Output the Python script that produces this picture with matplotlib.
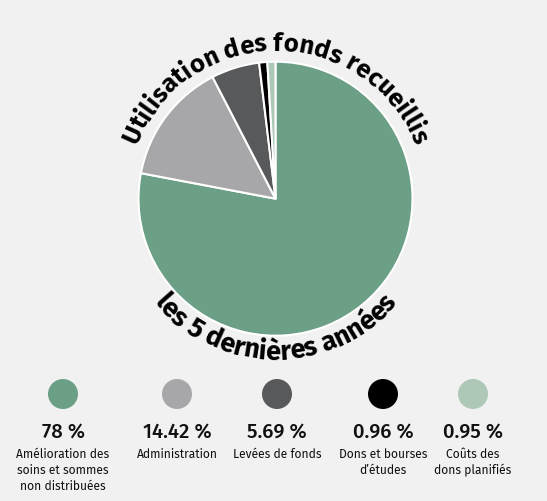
import numpy as np
import matplotlib
matplotlib.use('Agg')
import matplotlib.pyplot as plt
from matplotlib.patches import Circle
from matplotlib.font_manager import FontProperties, findfont, get_font

# data
categories = ['Amélioration des\nsoins et sommes\nnon distribuées', 'Administration',
              'Levées de fonds', 'Dons et bourses\nd\u2019études', 'Coûts des\ndons planifiés']
values = [78, 14.42, 5.69, 0.96, 0.95]
pct_labels = ['78 %', '14.42 %', '5.69 %', '0.96 %', '0.95 %']
colours = ['#6b9f86', '#a7a7a9', '#58595b', '#000000', '#adc8b7']
title_top = 'Utilisation des fonds recueillis'
title_bottom = 'les 5 dernières années'

W, H = 547, 502
BG = '#f1f1f1'
CX, CY, R = 275.5, H - 199.7, 137
FONT = 'Fira Sans'


def arc_text(ax, text, r_base, top, fs):
    # lay characters one by one along a circle around the pie centre
    fp = FontProperties(family=FONT, weight='bold', size=fs)
    font = get_font(findfont(fp))
    font.set_size(fs, 100)
    adv = [font.load_char(ord(c)).linearHoriAdvance / 65536 for c in text]
    pos = -sum(adv) / 2
    for c, a in zip(text, adv):
        s = pos + a / 2
        pos += a
        if top:
            th = 90 - np.degrees(s / r_base)
            rot = th - 90
        else:
            th = 270 + np.degrees(s / r_base)
            rot = th + 90
        x = CX + r_base * np.cos(np.radians(th))
        y = CY + r_base * np.sin(np.radians(th))
        ax.text(x, y, c, fontproperties=fp, rotation=rot, rotation_mode='anchor',
                ha='center', va='baseline', color='black')


fig = plt.figure(figsize=(W / 100, H / 100), dpi=100, facecolor=BG)
ax = fig.add_axes([0, 0, 1, 1])
ax.set_facecolor(BG)

ax.pie(values, colors=colours, startangle=90, counterclock=False,
       center=(CX, CY), radius=R,
       wedgeprops=dict(edgecolor='white', linewidth=1.5))

arc_text(ax, title_top, 149, True, 18.5)
arc_text(ax, title_bottom, 160, False, 19.5)

# legend row
leg_x = [63, 177, 277, 383, 473]
for x, col, pct, name in zip(leg_x, colours, pct_labels, categories):
    ax.add_patch(Circle((x, H - 395), 15, facecolor=col, edgecolor='none'))
    ax.text(x, H - 438, pct, ha='center', va='baseline', fontsize=14.6,
            family=FONT, weight='medium', color='#111111')
    for i, line in enumerate(name.split('\n')):
        ax.text(x, H - (458 + 16 * i), line, ha='center', va='baseline',
                fontsize=8.7, family=FONT, color='#111111')

ax.set_xlim(0, W)
ax.set_ylim(0, H)
ax.set_aspect('equal')
ax.axis('off')

fig.savefig('out.png', dpi=100, facecolor=BG)
